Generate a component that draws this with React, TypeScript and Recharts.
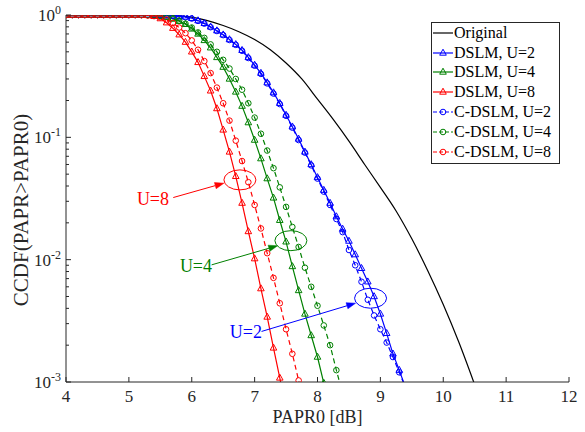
import React from "react";
import { LineChart, Line, XAxis, YAxis, Legend, ReferenceDot, ReferenceLine } from "recharts";

const FONT = "'Liberation Serif', 'Times New Roman', Times, Tinos, 'DejaVu Serif', 'Noto Serif', serif";
const AXIS = "#262626";
const BLUE = "#0000ff";
const GREEN = "#008000";
const RED = "#ff0000";

const PLOT_LEFT = 66;
const PLOT_RIGHT = 569;
const PLOT_TOP = 15;
const PLOT_BOTTOM = 382;

// PAPR0 grid (dB) used by the simulated curves
const paprGrid = [
  4.0, 4.1, 4.2, 4.3, 4.4, 4.5, 4.6, 4.7, 4.8, 4.9,
  5.0, 5.1, 5.2, 5.3, 5.4, 5.5, 5.6, 5.7, 5.8, 5.9,
  6.0, 6.1, 6.2, 6.3, 6.4, 6.5, 6.6, 6.7, 6.8, 6.9,
  7.0, 7.1, 7.2, 7.3, 7.4, 7.5, 7.6, 7.7, 7.8, 7.9,
  8.0, 8.1, 8.2, 8.3, 8.4, 8.5, 8.6, 8.7, 8.8, 8.9,
  9.0, 9.1, 9.2, 9.3, 9.4,
];

const originalX = [4, 4.5, 5, 5.5, 5.75, 6, 6.25, 6.5, 6.75, 7, 7.25, 7.5, 7.75, 8, 8.25, 8.5, 8.75, 9, 9.25, 9.5, 9.75, 10, 10.25, 10.5];
const originalCcdf = [1, 1, 1, 0.998, 0.99, 0.96, 0.9, 0.82, 0.73, 0.63, 0.52, 0.405, 0.3, 0.205, 0.14, 0.093, 0.06, 0.039, 0.025, 0.0148, 0.0082, 0.0043, 0.0021, 0.00095];

const dslmU2 = [
  1, 1, 1, 1, 1, 1, 1, 1, 1, 1, 1, 1, 1, 1,
  0.998, 0.996, 0.992, 0.985, 0.978, 0.965,
  0.94, 0.9, 0.855, 0.8, 0.745, 0.69, 0.63, 0.575, 0.515, 0.45,
  0.39, 0.335, 0.28, 0.232, 0.19, 0.152, 0.122, 0.097, 0.076, 0.06,
  0.047, 0.037, 0.029, 0.0225, 0.0178, 0.0142, 0.011, 0.0085, 0.0066, 0.005,
  0.0036, 0.0025, 0.0017, 0.00125, 0.0009,
];
const dslmU4 = [
  1, 1, 1, 1, 1, 1, 1, 1, 1, 1, 1, 1, 1,
  0.997, 0.99, 0.98, 0.96, 0.93, 0.89, 0.84,
  0.77, 0.7, 0.62, 0.54, 0.45, 0.375, 0.3, 0.235, 0.18, 0.132,
  0.095, 0.067, 0.046, 0.032, 0.021, 0.014, 0.0088, 0.0056, 0.0036, 0.0024,
  0.0016, 0.00098, 0.0006,
];
const dslmU8 = [
  1, 1, 1, 1, 1, 1, 1, 1, 1, 1, 1, 1,
  0.998, 0.993, 0.975, 0.935, 0.865, 0.78, 0.69, 0.6,
  0.5, 0.41, 0.315, 0.24, 0.172, 0.115, 0.076, 0.048, 0.029, 0.017,
  0.0102, 0.0058, 0.0034, 0.0019, 0.00108, 0.0006,
];
const cdslmU2 = [
  1, 1, 1, 1, 1, 1, 1, 1, 1, 1, 1, 1, 1, 1,
  0.998, 0.995, 0.991, 0.984, 0.975, 0.96,
  0.935, 0.895, 0.85, 0.795, 0.74, 0.685, 0.625, 0.57, 0.51, 0.445,
  0.385, 0.33, 0.276, 0.228, 0.187, 0.15, 0.12, 0.095, 0.075, 0.059,
  0.046, 0.036, 0.028, 0.0215, 0.0168, 0.012, 0.009, 0.0066, 0.0047, 0.0035,
  0.0027, 0.0021, 0.0016, 0.0012, 0.0009,
];
const cdslmU4 = [
  1, 1, 1, 1, 1, 1, 1, 1, 1, 1, 1, 1, 1,
  0.998, 0.994, 0.985, 0.97, 0.94, 0.9, 0.85,
  0.79, 0.72, 0.65, 0.575, 0.5, 0.43, 0.365, 0.3, 0.245, 0.19,
  0.145, 0.107, 0.078, 0.056, 0.039, 0.027, 0.0185, 0.0127, 0.0086, 0.006,
  0.0042, 0.0029, 0.002, 0.00125, 0.0008,
];
const cdslmU8 = [
  1, 1, 1, 1, 1, 1, 1, 1, 1, 1, 1, 1,
  0.997, 0.99, 0.98, 0.96, 0.92, 0.86, 0.79, 0.71,
  0.62, 0.52, 0.42, 0.335, 0.255, 0.19, 0.137, 0.094, 0.064, 0.043,
  0.028, 0.018, 0.0113, 0.0071, 0.0044, 0.0027, 0.0017, 0.00103, 0.0006,
];

const xTicks = [4, 5, 6, 7, 8, 9, 10, 11, 12];
const yMajorTicks = [0.001, 0.01, 0.1, 1];
const yTickExponents = ["-3", "-2", "-1", "0"];
const yMinorTicks = [
  0.002, 0.003, 0.004, 0.005, 0.006, 0.007, 0.008, 0.009,
  0.02, 0.03, 0.04, 0.05, 0.06, 0.07, 0.08, 0.09,
  0.2, 0.3, 0.4, 0.5, 0.6, 0.7, 0.8, 0.9,
];
const yAllTicks = [...yMajorTicks, ...yMinorTicks].sort((a, b) => a - b);

// annotation: group label, label centre, arrow start/end, ellipse centre
const annotations = [
  { text: "U=8", color: RED, label: [5.383, 0.0314], from: [5.706, 0.0322], to: [6.512, 0.0422], ring: [6.766, 0.0449] },
  { text: "U=4", color: GREEN, label: [6.067, 0.0088], from: [6.316, 0.00907], to: [7.366, 0.013], ring: [7.577, 0.0143] },
  { text: "U=2", color: BLUE, label: [6.862, 0.00254], from: [7.11, 0.00259], to: [8.606, 0.00441], ring: [8.844, 0.00484] },
];

const toPoints = (vals: number[]) => vals.map((y, i) => ({ x: paprGrid[i], y }));
const originalPoints = originalX.map((x, i) => ({ x, y: originalCcdf[i] }));

type Marker = "triangle" | "circle";

const series = [
  { name: "DSLM, U=2", data: toPoints(dslmU2), color: BLUE, marker: "triangle" as Marker, dashed: false },
  { name: "DSLM, U=4", data: toPoints(dslmU4), color: GREEN, marker: "triangle" as Marker, dashed: false },
  { name: "DSLM, U=8", data: toPoints(dslmU8), color: RED, marker: "triangle" as Marker, dashed: false },
  { name: "C-DSLM, U=2", data: toPoints(cdslmU2), color: BLUE, marker: "circle" as Marker, dashed: true },
  { name: "C-DSLM, U=4", data: toPoints(cdslmU4), color: GREEN, marker: "circle" as Marker, dashed: true },
  { name: "C-DSLM, U=8", data: toPoints(cdslmU8), color: RED, marker: "circle" as Marker, dashed: true },
];

function markerShape(kind: Marker, cx: number, cy: number, color: string, key?: any) {
  if (kind === "triangle") {
    return (
      <path
        key={key}
        d={`M${cx},${cy - 3.8} L${cx + 3.3},${cy + 2.2} L${cx - 3.3},${cy + 2.2} Z`}
        fill="none"
        stroke={color}
        strokeWidth={1}
      />
    );
  }
  return <circle key={key} cx={cx} cy={cy} r={2.8} fill="none" stroke={color} strokeWidth={1} />;
}

const makeDot = (kind: Marker, color: string) => (p: any) => {
  if (p.cx == null || p.cy == null) return <g key={p.index} />;
  return markerShape(kind, p.cx, p.cy, color, p.index);
};

const renderBottomTick = (p: any) => (
  <g>
    <line x1={p.x} x2={p.x} y1={PLOT_BOTTOM} y2={PLOT_BOTTOM - 5} stroke={AXIS} />
    <text x={p.x} y={402} textAnchor="middle" fontSize={17} fontFamily={FONT} fill="#262626">
      {p.payload.value}
    </text>
  </g>
);

const renderTopTick = (p: any) => (
  <line x1={p.x} x2={p.x} y1={PLOT_TOP} y2={PLOT_TOP + 5} stroke={AXIS} />
);

const renderLeftTick = (p: any) => {
  const v = p.payload.value;
  const idx = yMajorTicks.indexOf(v);
  const len = idx >= 0 ? 5 : 3;
  return (
    <g>
      <line x1={PLOT_LEFT} x2={PLOT_LEFT + len} y1={p.y} y2={p.y} stroke={AXIS} />
      {idx >= 0 && (
        <text x={PLOT_LEFT - 5} y={p.y + 6} textAnchor="end" fontSize={17} fontFamily={FONT} fill="#262626">
          10
          <tspan dy={-7} fontSize={12}>{yTickExponents[idx]}</tspan>
        </text>
      )}
    </g>
  );
};

const renderRightTick = (p: any) => {
  const len = yMajorTicks.indexOf(p.payload.value) >= 0 ? 5 : 3;
  return <line x1={PLOT_RIGHT} x2={PLOT_RIGHT - len} y1={p.y} y2={p.y} stroke={AXIS} />;
};

const renderLegend = () => (
  <div
    style={{
      border: `1px solid ${AXIS}`,
      background: "#fff",
      width: 127,
      padding: "0 0 1px 0",
      fontFamily: FONT,
      fontSize: 16,
      color: "#000",
    }}
  >
    <div style={{ display: "flex", alignItems: "center", height: 19.8 }}>
      <svg width={22} height={10} style={{ flex: "none" }}>
        <line x1={1} x2={21} y1={5} y2={5} stroke="#000" strokeWidth={1.2} />
      </svg>
      <span style={{ whiteSpace: "nowrap" }}>Original</span>
    </div>
    {series.map((s) => (
      <div key={s.name} style={{ display: "flex", alignItems: "center", height: 19.8 }}>
        <svg width={22} height={10} style={{ flex: "none" }}>
          <line x1={1} x2={21} y1={5} y2={5} stroke={s.color} strokeWidth={1.2} strokeDasharray={s.dashed ? "4 2" : undefined} />
          {markerShape(s.marker, 11, 5, s.color)}
        </svg>
        <span style={{ whiteSpace: "nowrap" }}>{s.name}</span>
      </div>
    ))}
  </div>
);

const arrowShape = (color: string) => (p: any) => {
  const { x1, y1, x2, y2 } = p;
  const ang = Math.atan2(y2 - y1, x2 - x1);
  const L = 9;
  const W = 3.2;
  const bx = x2 - L * Math.cos(ang);
  const by = y2 - L * Math.sin(ang);
  const nx = -Math.sin(ang) * W;
  const ny = Math.cos(ang) * W;
  return (
    <g>
      <line x1={x1} y1={y1} x2={bx} y2={by} stroke={color} strokeWidth={1} />
      <path d={`M${x2},${y2} L${bx + nx},${by + ny} L${bx - nx},${by - ny} Z`} fill={color} stroke={color} strokeWidth={0.5} />
    </g>
  );
};

export default function App() {
  return (
    <div style={{ position: "absolute", left: 0, top: 0, width: 585, height: 432, background: "#fff", fontFamily: FONT }}>
      <LineChart
        width={585}
        height={432}
        margin={{ top: PLOT_TOP, right: 585 - PLOT_RIGHT, bottom: 0, left: 0 }}
        style={{ fontFamily: FONT }}
      >
        <XAxis
          type="number"
          dataKey="x"
          domain={[4, 12]}
          ticks={xTicks}
          interval={0}
          allowDataOverflow
          height={432 - PLOT_BOTTOM}
          axisLine={{ stroke: AXIS }}
          tickLine={false}
          tick={renderBottomTick}
          label={{
            value: "PAPR0 [dB]",
            content: () => (
              <text x={(PLOT_LEFT + PLOT_RIGHT) / 2} y={423} textAnchor="middle" fontSize={18} fontFamily={FONT} fill="#262626">
                PAPR0 [dB]
              </text>
            ),
          }}
        />
        <XAxis
          xAxisId="top"
          orientation="top"
          type="number"
          domain={[4, 12]}
          ticks={xTicks}
          interval={0}
          allowDataOverflow
          height={0}
          axisLine={{ stroke: AXIS }}
          tickLine={false}
          tick={renderTopTick}
        />
        <YAxis
          type="number"
          scale="log"
          domain={[0.001, 1]}
          allowDataOverflow
          ticks={yAllTicks}
          interval={0}
          width={PLOT_LEFT}
          axisLine={{ stroke: AXIS }}
          tickLine={false}
          tick={renderLeftTick}
          label={{
            value: "CCDF(PAPR>PAPR0)",
            content: () => (
              <text x={21} y={210} transform="rotate(-90 21 210)" textAnchor="middle" dominantBaseline="central" fontSize={21} fontFamily={FONT} fill="#262626">
                CCDF(PAPR&gt;PAPR0)
              </text>
            ),
          }}
        />
        <YAxis
          yAxisId="right"
          orientation="right"
          type="number"
          scale="log"
          domain={[0.001, 1]}
          allowDataOverflow
          ticks={yAllTicks}
          interval={0}
          width={0}
          axisLine={{ stroke: AXIS }}
          tickLine={false}
          tick={renderRightTick}
        />
        <Line
          data={originalPoints}
          dataKey="y"
          type="monotone"
          stroke="#000"
          strokeWidth={1.2}
          dot={false}
          isAnimationActive={false}
          name="Original"
        />
        {series.map((s) => (
          <Line
            key={s.name}
            data={s.data}
            dataKey="y"
            name={s.name}
            type="linear"
            stroke={s.color}
            strokeWidth={1.2}
            strokeDasharray={s.dashed ? "5 3.5" : undefined}
            dot={makeDot(s.marker, s.color)}
            activeDot={false}
            isAnimationActive={false}
          />
        ))}
        {annotations.map((a) => (
          <ReferenceLine
            key={a.text + "-arrow"}
            segment={[{ x: a.from[0], y: a.from[1] }, { x: a.to[0], y: a.to[1] }]}
            stroke={a.color}
            shape={arrowShape(a.color)}
          />
        ))}
        {annotations.map((a) => (
          <ReferenceDot
            key={a.text + "-ring"}
            x={a.ring[0]}
            y={a.ring[1]}
            r={10}
            shape={(p: any) => <ellipse cx={p.cx} cy={p.cy} rx={16} ry={10} fill="none" stroke={a.color} strokeWidth={1} />}
          />
        ))}
        {annotations.map((a) => (
          <ReferenceDot
            key={a.text + "-label"}
            x={a.label[0]}
            y={a.label[1]}
            r={1}
            shape={(p: any) => (
              <text x={p.cx} y={p.cy + 6} textAnchor="middle" fontSize={18} fontFamily={FONT} fill={a.color}>
                {a.text}
              </text>
            )}
          />
        ))}
        <Legend
          layout="horizontal"
          verticalAlign="middle"
          align="center"
          content={renderLegend}
          wrapperStyle={{ left: 431, top: 22, width: 129 }}
        />
      </LineChart>
    </div>
  );
}
